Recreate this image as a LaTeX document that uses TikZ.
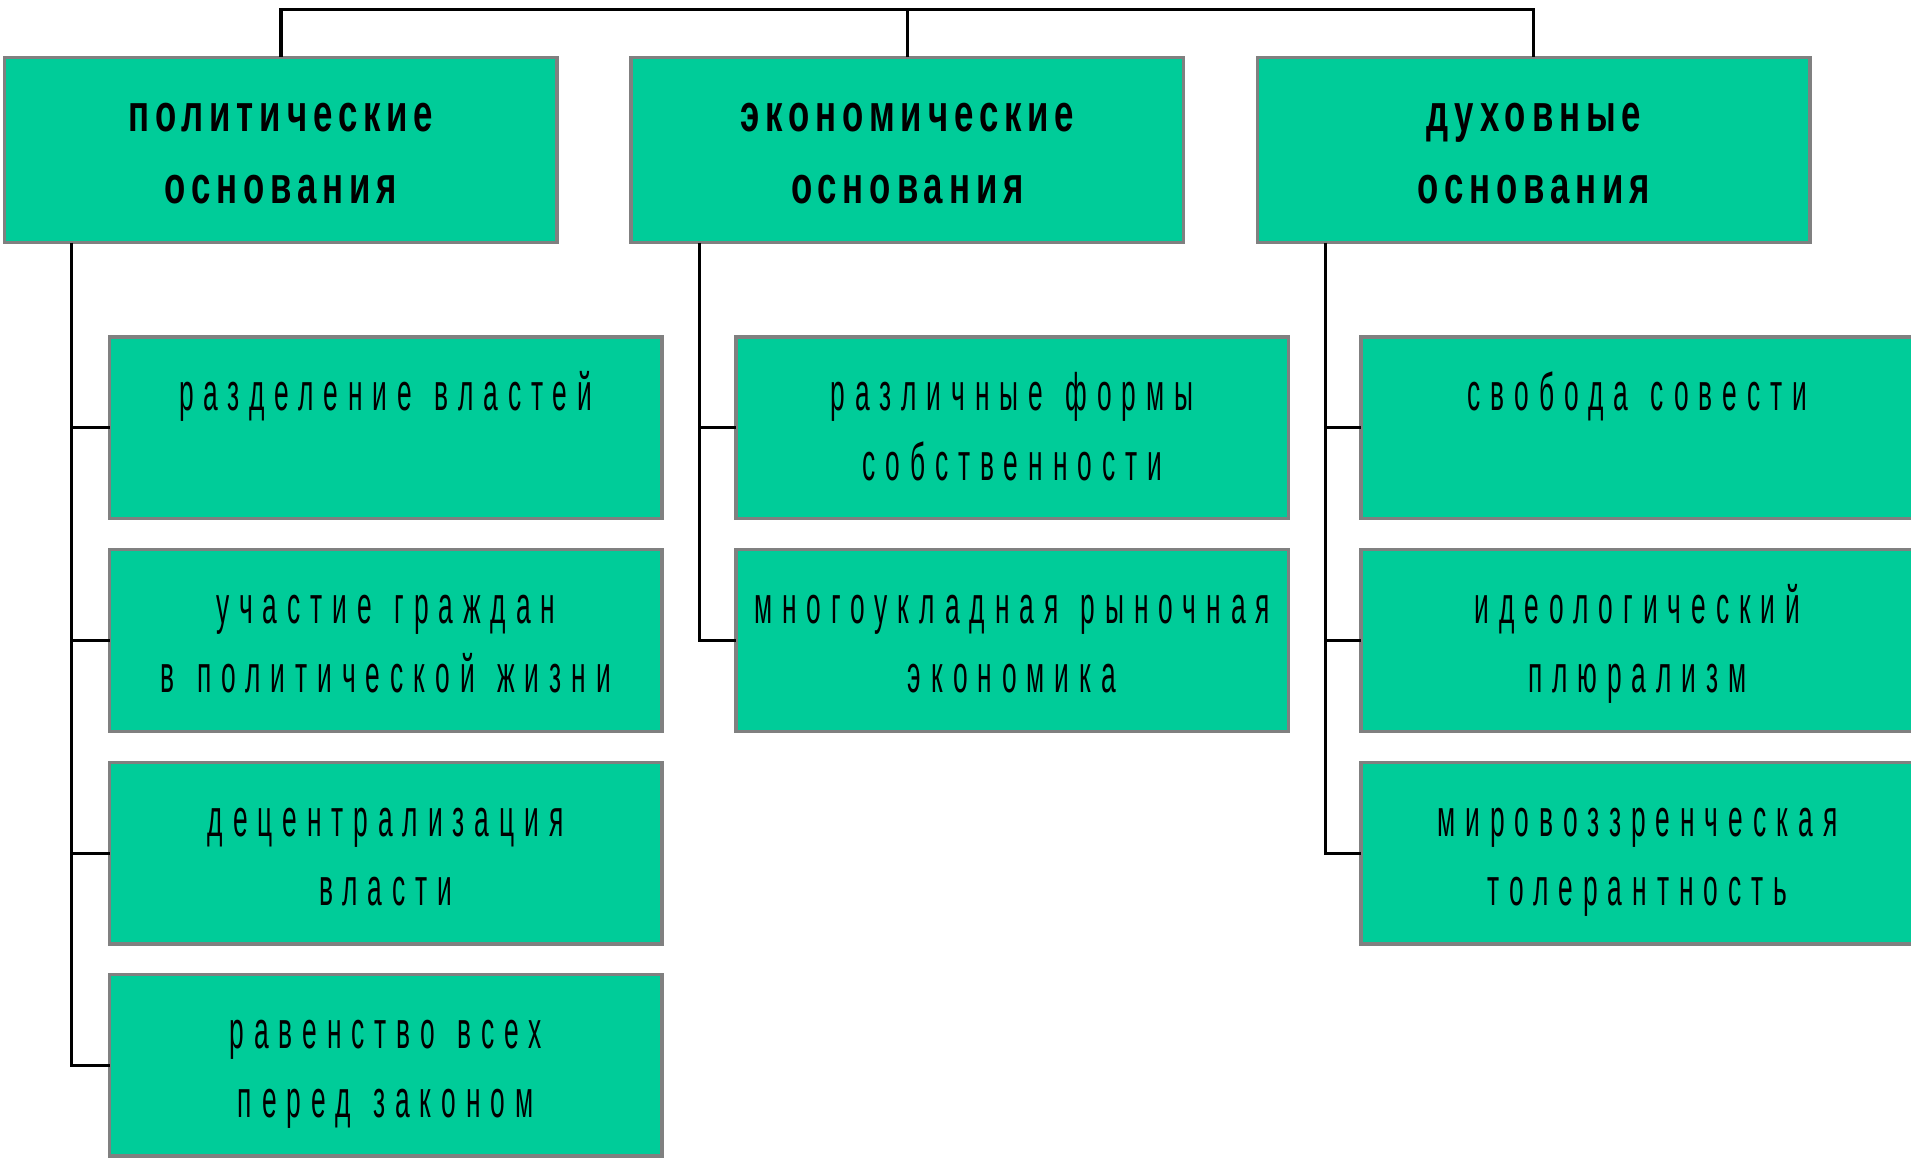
\documentclass[tikz,border=0pt]{standalone}
\usepackage{fontspec}
\usetikzlibrary{calc}
\newfontfamily\topfont{Liberation Sans}[FakeStretch=0.66, LetterSpace=11.2]
\newfontfamily\subfont{Liberation Sans}[FakeStretch=0.5, LetterSpace=18.9, WordSpace=1.3]
\newcommand{\hstr}{\rule{0pt}{10pt}}
\definecolor{boxgreen}{HTML}{00CC99}
\definecolor{boxedge}{HTML}{808080}
\tikzset{
  box/.style={draw=boxedge, line width=0.8pt, fill=boxgreen, inner sep=0pt, outer sep=0pt},
  topbox/.style={box, minimum width=4.53cm, minimum height=1.52cm},
  subbox/.style={box, minimum width=4.53cm, minimum height=1.49cm},
  toptext/.style={anchor=north, align=center, inner sep=0pt,
     font=\topfont\bfseries\fontsize{12.3pt}{16.8pt}\selectfont},
  subtext/.style={anchor=north, align=center, inner sep=0pt,
     font=\subfont\fontsize{12.3pt}{16.2pt}\selectfont},
  conn/.style={draw=black, line width=0.75pt}
}
\begin{document}
\begin{tikzpicture}[x=0.01cm, y=-0.01cm]
\useasboundingbox (0,0) rectangle (1568,952);
\clip (0,0) rectangle (1568,952);
\fill[white] (0,0) rectangle (1568,952);

% top boxes
\node[topbox] (t1) at (230.5,123) {};
\node[topbox] (t2) at (744.5,123) {};
\node[topbox] (t3) at (1258.5,123) {};

% sub boxes
\node[subbox] (s11) at (316.5,351) {};
\node[subbox] (s12) at (316.5,525.5) {};
\node[subbox] (s13) at (316.5,700) {};
\node[subbox] (s14) at (316.5,874) {};
\node[subbox] (s21) at (830.5,351) {};
\node[subbox] (s22) at (830.5,525.5) {};
\node[subbox] (s31) at (1343.5,351) {};
\node[subbox] (s32) at (1343.5,525.5) {};
\node[subbox] (s33) at (1343.5,700) {};

% texts
\node[toptext] (t1t) at ($(t1.north)+(0,24.8)$) {\hstr политические\\основания};
\node[toptext] (t2t) at ($(t2.north)+(0,24.8)$) {\hstr экономические\\основания};
\node[toptext] (t3t) at ($(t3.north)+(0,24.8)$) {\hstr духовные\\основания};

\node[subtext] (s11t) at ($(s11.north)+(0,24.8)$) {\hstr разделение властей};
\node[subtext] (s12t) at ($(s12.north)+(0,24.8)$) {\hstr участие граждан\\в политической жизни};
\node[subtext] (s13t) at ($(s13.north)+(0,24.8)$) {\hstr децентрализация\\власти};
\node[subtext] (s14t) at ($(s14.north)+(0,24.8)$) {\hstr равенство всех\\перед законом};
\node[subtext] (s21t) at ($(s21.north)+(0,24.8)$) {\hstr различные формы\\собственности};
\node[subtext] (s22t) at ($(s22.north)+(0,24.8)$) {\hstr многоукладная рыночная\\экономика};
\node[subtext] (s31t) at ($(s31.north)+(0,24.8)$) {\hstr свобода совести};
\node[subtext] (s32t) at ($(s32.north)+(0,24.8)$) {\hstr идеологический\\плюрализм};
\node[subtext] (s33t) at ($(s33.north)+(0,24.8)$) {\hstr мировоззренческая\\толерантность};

% top connector
\coordinate (top) at ($(t2.north)+(0,-39)$);
\draw[conn] (t1.north) |- (top) -| (t3.north);
\draw[conn] (t2.north) -- (top);

% trunks
\coordinate (k1) at ($(t1.south west)+(55,0)$);
\coordinate (k2) at ($(t2.south west)+(56,0)$);
\coordinate (k3) at ($(t3.south west)+(56,0)$);
\draw[conn] (k1) |- (s14.west);
\draw[conn] (k1 |- s11.west) -- (s11.west);
\draw[conn] (k1 |- s12.west) -- (s12.west);
\draw[conn] (k1 |- s13.west) -- (s13.west);
\draw[conn] (k2) |- (s22.west);
\draw[conn] (k2 |- s21.west) -- (s21.west);
\draw[conn] (k3) |- (s33.west);
\draw[conn] (k3 |- s31.west) -- (s31.west);
\draw[conn] (k3 |- s32.west) -- (s32.west);
\end{tikzpicture}
\end{document}
